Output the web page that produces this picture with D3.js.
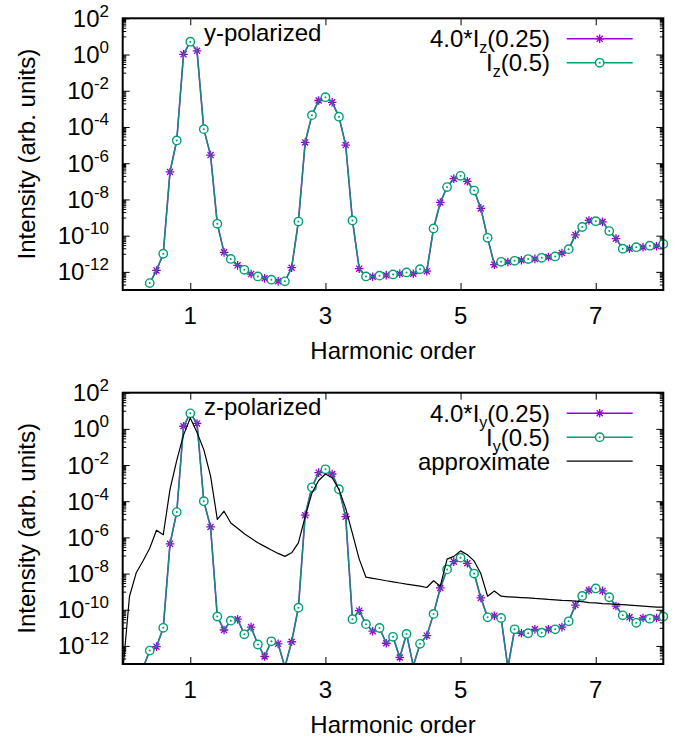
<!DOCTYPE html>
<html><head><meta charset="utf-8">
<script src="https://cdn.jsdelivr.net/npm/d3@7"></script>
<style>
body{margin:0;background:#fff;}
text{font-family:"Liberation Sans",Arial,Helvetica,sans-serif;fill:#000;}
</style></head>
<body>
<script>
// Harmonic order sample points (x values)
const harmonicOrder = [0.0,0.1,0.2,0.3,0.4,0.5,0.6,0.7,0.8,0.9,1.0,1.1,1.2,1.3,1.4,1.5,1.6,1.7,1.8,1.9,
  2.0,2.1,2.2,2.3,2.4,2.5,2.6,2.7,2.8,2.9,3.0,3.1,3.2,3.3,3.4,3.5,3.6,3.7,3.8,3.9,
  4.0,4.1,4.2,4.3,4.4,4.5,4.6,4.7,4.8,4.9,5.0,5.1,5.2,5.3,5.4,5.5,5.6,5.7,5.8,5.9,
  6.0,6.1,6.2,6.3,6.4,6.5,6.6,6.7,6.8,6.9,7.0,7.1,7.2,7.3,7.4,7.5,7.6,7.7,7.8,7.9,8.0];

// Top panel (y-polarized)
const topIz025x4 = [null,null,null,null,
  2.4e-13,1.2e-12,1.0e-11,3.3e-7,1.8e-5,1.02,5.1,1.6,7.6e-5,2.8e-6,4.5e-10,1.2e-11,5.2e-12,2.3e-12,1.3e-12,7.6e-13,
  5.6e-13,4.4e-13,3.7e-13,3.0e-13,3.0e-13,1.7e-12,6.0e-10,1.4e-5,4.5e-4,2.9e-3,4.4e-3,2.3e-3,3.7e-4,1.0e-5,6.9e-10,1.5e-12,
  5.6e-13,5.4e-13,6.2e-13,6.6e-13,7.2e-13,7.9e-13,9.3e-13,7.9e-13,1.4e-12,1.1e-12,2.5e-10,6.8e-9,4.8e-8,1.4e-7,
  2.0e-7,1.0e-7,3.1e-8,3.2e-9,7.6e-11,2.5e-12,3.6e-12,3.5e-12,4.1e-12,4.4e-12,5.1e-12,5.2e-12,6.0e-12,6.6e-12,7.1e-12,
  1.1e-11,1.8e-11,1.1e-10,3.0e-10,6.9e-10,6.3e-10,5.8e-10,1.8e-10,6.9e-11,1.9e-11,1.9e-11,2.3e-11,2.3e-11,2.8e-11,2.6e-11,3.5e-11];
const topIz05 = [null,null,null,null,
  2.4e-13,1.2e-12,1.0e-11,3.3e-7,1.8e-5,1.02,5.1,1.6,7.6e-5,2.8e-6,4.5e-10,1.2e-11,5.2e-12,2.3e-12,1.3e-12,7.6e-13,
  5.6e-13,4.4e-13,3.7e-13,3.0e-13,3.0e-13,1.7e-12,6.0e-10,1.4e-5,4.5e-4,2.9e-3,4.4e-3,2.3e-3,3.7e-4,1.0e-5,6.9e-10,1.5e-12,
  5.6e-13,5.4e-13,6.2e-13,6.6e-13,7.2e-13,7.9e-13,9.3e-13,7.9e-13,1.4e-12,1.1e-12,2.5e-10,6.8e-9,4.8e-8,1.4e-7,
  2.0e-7,1.0e-7,3.1e-8,3.2e-9,7.6e-11,2.5e-12,3.6e-12,3.5e-12,4.1e-12,4.4e-12,5.1e-12,5.2e-12,6.0e-12,6.6e-12,7.1e-12,
  1.1e-11,1.8e-11,1.1e-10,3.0e-10,6.9e-10,6.3e-10,5.8e-10,1.8e-10,6.9e-11,1.9e-11,1.9e-11,2.3e-11,2.3e-11,2.8e-11,2.6e-11,3.5e-11];

// Bottom panel (z-polarized)
const botIy025x4 = [null,null,null,
  6.0e-14,5.5e-13,9.1e-13,1.0e-11,4.4e-7,2.5e-5,1.4,7.2,2.0,1.0e-4,3.8e-6,4.2e-11,7.6e-12,2.5e-11,3.0e-11,4.4e-12,1.1e-11,
  1.2e-12,2.6e-13,1.8e-12,1.3e-12,6.8e-14,1.7e-12,1.3e-10,1.7e-5,5.9e-4,3.8e-3,5.8e-3,3.2e-3,4.6e-4,1.4e-5,3.0e-11,8.9e-11,
  1.6e-11,6.5e-12,9.8e-12,1.4e-12,3.2e-12,2.3e-13,4.6e-12,7.9e-14,1.3e-12,3.7e-12,5.9e-11,1.6e-9,1.7e-8,4.6e-8,
  7.6e-8,3.7e-8,1.0e-8,4.5e-10,3.8e-11,4.6e-11,3.5e-11,6.3e-14,8.3e-12,5.0e-12,5.0e-12,8.3e-12,5.4e-12,8.3e-12,8.3e-12,
  1.1e-11,2.3e-11,1.8e-10,5.8e-10,1.2e-9,1.5e-9,1.1e-9,4.9e-10,1.6e-10,4.9e-11,3.8e-11,1.9e-11,3.5e-11,3.2e-11,3.5e-11,4.2e-11];
const botIy05 = [null,null,null,
  6.0e-14,5.5e-13,9.1e-13,1.0e-11,4.4e-7,2.5e-5,1.4,7.2,2.0,1.0e-4,3.8e-6,4.2e-11,7.6e-12,2.5e-11,3.0e-11,4.4e-12,1.1e-11,
  1.2e-12,2.6e-13,1.8e-12,1.3e-12,6.8e-14,1.7e-12,1.3e-10,1.7e-5,5.9e-4,3.8e-3,5.8e-3,3.2e-3,4.6e-4,1.4e-5,3.0e-11,8.9e-11,
  1.6e-11,6.5e-12,9.8e-12,1.4e-12,3.2e-12,2.3e-13,4.6e-12,7.9e-14,1.3e-12,3.7e-12,5.9e-11,1.6e-9,1.7e-8,4.6e-8,
  7.6e-8,3.7e-8,1.0e-8,4.5e-10,3.8e-11,4.6e-11,3.5e-11,6.3e-14,8.3e-12,5.0e-12,5.0e-12,8.3e-12,5.4e-12,8.3e-12,8.3e-12,
  1.1e-11,2.3e-11,1.8e-10,5.8e-10,1.2e-9,1.5e-9,1.1e-9,4.9e-10,1.6e-10,4.9e-11,3.8e-11,1.9e-11,3.5e-11,3.2e-11,3.5e-11,4.2e-11];
const botApprox = [
  3.2e-14,5.4e-10,1.1e-8,5.0e-8,2.5e-7,2.5e-6,1.4e-6,4.5e-4,1.8e-2,0.45,4.0,0.63,7.1e-2,2.5e-3,1.0e-5,2.8e-5,6.3e-6,3.2e-6,1.6e-6,8.9e-7,
  5.0e-7,3.2e-7,2.0e-7,1.3e-7,8.9e-8,1.4e-7,5.0e-7,1.4e-5,2.8e-4,1.4e-3,3.2e-3,2.0e-3,4.5e-4,4.0e-5,1.6e-6,6.3e-8,6.3e-9,5.4e-9,4.7e-9,4.0e-9,
  3.5e-9,3.0e-9,2.6e-9,2.3e-9,2.0e-9,1.7e-9,4.0e-9,2.0e-9,6.3e-8,8.9e-8,1.8e-7,1.1e-7,5.0e-8,1.0e-8,5.6e-10,1.1e-9,5.6e-10,5.2e-10,5.0e-10,4.7e-10,
  4.5e-10,4.2e-10,4.0e-10,3.7e-10,3.5e-10,3.3e-10,3.2e-10,3.0e-10,2.8e-10,2.5e-10,2.4e-10,2.2e-10,2.1e-10,2.0e-10,1.9e-10,1.8e-10,1.7e-10,1.6e-10,1.5e-10,1.4e-10,1.4e-10];

const xTicks = [1,3,5,7];
const yMajorExp = [-12,-10,-8,-6,-4,-2,0,2];
const xLabel = "Harmonic order";
const yLabel = "Intensity (arb. units)";

const PURPLE = "#9400d3", GREEN = "#009e73";
const W = 687, H = 742;
const svg = d3.select("body").append("svg").attr("width", W).attr("height", H);

const x = d3.scaleLinear().domain([0, 8]).range([122.7, 663.3]);

const panels = [
  {top: 18.3, bottom: 290, title: "y-polarized",
   series: [
     {name: ["4.0*I", "z", "(0.25)"], data: topIz025x4, color: PURPLE, marker: "star", parity: 1},
     {name: ["I", "z", "(0.5)"], data: topIz05, color: GREEN, marker: "circle", parity: 0, opacity: 0.85}
   ]},
  {top: 392.7, bottom: 664, title: "z-polarized",
   series: [
     {name: ["4.0*I", "y", "(0.25)"], data: botIy025x4, color: PURPLE, marker: "star", parity: 1},
     {name: ["I", "y", "(0.5)"], data: botIy05, color: GREEN, marker: "circle", parity: 0, opacity: 0.85},
     {name: ["approximate"], data: botApprox, color: "#000", marker: null, width: 1.2}
   ]}
];

function starPath(s) {
  const d = s * 0.7071;
  return `M0,${-s}L0,${s}M${-s},0L${s},0M${-d},${-d}L${d},${d}M${-d},${d}L${d},${-d}`;
}
function drawMarker(g, type, color, cx, cy) {
  if (type === "star") {
    g.append("path").attr("d", starPath(4.3)).attr("transform", `translate(${cx},${cy})`)
      .attr("stroke", color).attr("stroke-width", 1.3).attr("fill", "none");
  } else if (type === "circle") {
    g.append("circle").attr("cx", cx).attr("cy", cy).attr("r", 4.2)
      .attr("fill", "#fff").attr("stroke", color).attr("stroke-width", 1.4);
    g.append("circle").attr("cx", cx).attr("cy", cy).attr("r", 1.0).attr("fill", color);
  }
}

panels.forEach((p, pi) => {
  const y = d3.scaleLog().domain([1e-13, 1e2]).range([p.bottom, p.top]);
  const g = svg.append("g");
  const clipId = "clip" + pi;
  svg.append("clipPath").attr("id", clipId).append("rect")
    .attr("x", x.range()[0]).attr("y", p.top)
    .attr("width", x.range()[1] - x.range()[0]).attr("height", p.bottom - p.top);

  // minor ticks: j * 10^(odd exponent)
  const minor = [];
  for (let e = -13; e <= 1; e += 2) for (let j = 1; j <= 9; j++) {
    const v = j * Math.pow(10, e);
    if (v >= 1e-13 && v <= 1e2) minor.push(v);
  }
  const major = yMajorExp.map(e => Math.pow(10, e));
  const x0 = x.range()[0], x1 = x.range()[1];

  g.append("g").attr("transform", `translate(${x0},0)`)
    .call(d3.axisLeft(y).tickValues(minor).tickSize(-3.5).tickFormat(""))
    .call(a => a.select(".domain").remove());
  g.append("g").attr("transform", `translate(${x0},0)`)
    .call(d3.axisLeft(y).tickValues(major).tickSize(-7).tickFormat(""))
    .call(a => a.select(".domain").remove());
  g.append("g").attr("transform", `translate(${x1},0)`)
    .call(d3.axisRight(y).tickValues(minor).tickSize(-3.5).tickFormat(""))
    .call(a => a.select(".domain").remove());
  g.append("g").attr("transform", `translate(${x1},0)`)
    .call(d3.axisRight(y).tickValues(major).tickSize(-7).tickFormat(""))
    .call(a => a.select(".domain").remove());
  g.append("g").attr("transform", `translate(0,${p.bottom})`)
    .call(d3.axisBottom(x).tickValues(xTicks).tickSize(-7).tickFormat(""))
    .call(a => a.select(".domain").remove());
  g.append("g").attr("transform", `translate(0,${p.top})`)
    .call(d3.axisTop(x).tickValues(xTicks).tickSize(-7).tickFormat(""))
    .call(a => a.select(".domain").remove());
  g.selectAll(".tick line").attr("stroke", "#000").attr("stroke-width", 1);

  // y tick labels
  yMajorExp.forEach(e => {
    const t = g.append("text").attr("x", 109).attr("y", y(Math.pow(10, e)) + 8.5)
      .attr("text-anchor", "end").attr("font-size", 24);
    t.append("tspan").text("10");
    t.append("tspan").attr("dy", -10).attr("font-size", 17).text(String(e));
  });
  // x tick labels
  xTicks.forEach(v => {
    g.append("text").attr("x", x(v)).attr("y", p.bottom + 34)
      .attr("text-anchor", "middle").attr("font-size", 24).text(v);
  });
  // axis titles
  g.append("text").attr("x", (x0 + x1) / 2).attr("y", p.bottom + 69)
    .attr("text-anchor", "middle").attr("font-size", 24).text(xLabel);
  g.append("text").attr("transform", `translate(35,${(p.top + p.bottom) / 2}) rotate(-90)`)
    .attr("text-anchor", "middle").attr("font-size", 24).text(yLabel);

  // data
  const plot = g.append("g");
  p.series.forEach(s => {
    const pts = harmonicOrder.map((h, i) => ({h, v: s.data[i], i}));
    const line = d3.line().defined(d => d.v != null).x(d => x(d.h)).y(d => y(Math.max(d.v, 1e-20)));
    plot.append("path").datum(pts).attr("d", line).attr("clip-path", `url(#${clipId})`)
      .attr("fill", "none").attr("stroke", s.color).attr("stroke-width", s.width || 1.5)
      .attr("stroke-opacity", s.opacity || 1).attr("stroke-linejoin", "round");
    if (s.marker) {
      pts.filter(d => d.v != null && d.i % 2 === s.parity && d.v >= 1e-13 && d.v <= 1e2)
        .forEach(d => drawMarker(plot, s.marker, s.color, x(d.h), y(d.v)));
    }
  });

  // title label
  g.append("text").attr("x", 204).attr("y", p.top + 22.5).attr("font-size", 24).text(p.title);

  // legend
  p.series.forEach((s, k) => {
    const ly = p.top + 20.5 + k * 24;
    const t = g.append("text").attr("x", 550).attr("y", ly + 8.5)
      .attr("text-anchor", "end").attr("font-size", 24);
    if (s.name.length === 3) {
      t.append("tspan").text(s.name[0]);
      t.append("tspan").attr("dy", 6).attr("font-size", 16).text(s.name[1]);
      t.append("tspan").attr("dy", -6).text(s.name[2]);
    } else {
      t.text(s.name[0]);
    }
    g.append("line").attr("x1", 566.7).attr("x2", 632.7).attr("y1", ly).attr("y2", ly)
      .attr("stroke", s.color).attr("stroke-width", s.width || 1.5);
    if (s.marker) drawMarker(g, s.marker, s.color, 599.7, ly);
  });

  // frame
  g.append("rect").attr("x", x0).attr("y", p.top).attr("width", x1 - x0).attr("height", p.bottom - p.top)
    .attr("fill", "none").attr("stroke", "#000").attr("stroke-width", 2);
});
</script>
</body></html>
